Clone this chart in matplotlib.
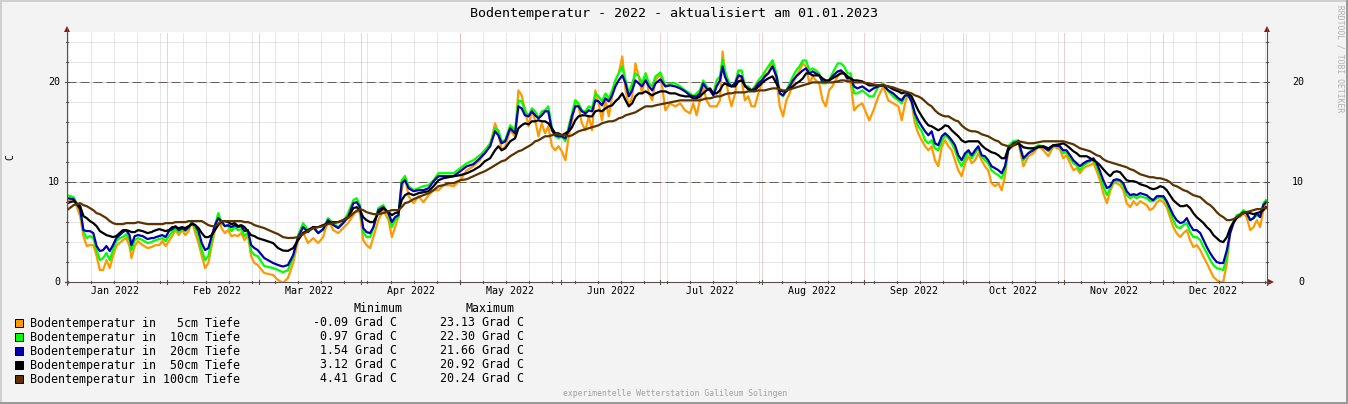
import numpy as np
import matplotlib
matplotlib.use("Agg")
import matplotlib.pyplot as plt
from matplotlib.patches import Rectangle, Polygon
from matplotlib.lines import Line2D

nan = np.nan
W, H = 1348, 404
plt.rcParams['font.family'] = ['DejaVu Sans Mono']

# days since chart start (chart starts 01.01.2022 ~14:00, i.e. day-of-year 0.6)
t_start = 0.6
days = [0, 2, 4, 5, 6, 7, 8, 9, 10, 11,
        12, 13, 14, 15, 16, 17, 18, 19, 19.6, 20.6,
        21.6, 23, 24.5, 25.7, 26, 26.3, 27.1, 28.1, 29, 30, 31, 32,
        33, 34, 35, 36, 37, 38, 39, 40, 41, 42,
        43, 44, 45, 46, 47, 48, 49, 50, 51, 52,
        53, 54, 55, 56, 57, 58, 60, 62.7, 64.2, 65.7,
        67.2, 68.8, 70.3, 71.8, 73.3, 74.9, 76.4, 77.9, 79.4, 81,
        82.5, 84, 85.5, 87.1, 88.1, 89.1, 90.1, 91.1, 92.2, 93.2,
        94.7, 96.2, 97.8, 98.8, 99.8, 100.8, 101.8, 102.8, 103.9, 105.4,
        106.9, 108.4, 110, 111.5, 113, 114.5, 116, 117.6, 119.6, 121.6,
        123.6, 125.6, 127.1, 128.7, 130.2, 131.2, 132.2, 133.3, 134.8, 136.3,
        137.3, 138.3, 139.3, 140.4, 141.4, 142.4, 143.4, 144.4, 145.4, 146.4,
        147.5, 148.5, 149.5, 150.5, 151.6, 152.6, 153.6, 154.6, 155.6, 156.6,
        157.7, 158.7, 159.7, 160.7, 161.7, 162.7, 163.8, 164.8, 165.8, 166.8,
        167.8, 168.9, 169.9, 170.9, 171.9, 172.9, 173.9, 174.9, 176, 177,
        178, 179, 180.5, 182, 183.4, 185, 186.5, 188, 189.5, 190.5,
        191.5, 192.5, 193.5, 194.5, 195.6, 196.6, 197.6, 198.6, 199.4, 200.1,
        201.1, 202.1, 203.2, 204.2, 205.2, 206.2, 207.2, 208.2, 209.2, 210.3,
        211.3, 212.3, 213.3, 214.6, 215.8, 216.8, 217.8, 218.8, 219.8, 220.8,
        221.8, 222.8, 223.8, 224.8, 225.8, 226.8, 227.8, 228.8, 229.8, 230.8,
        231.8, 232.8, 234.4, 235.4, 236.4, 237.4, 238.4, 239.4, 240.4, 241.9,
        244, 245.3, 246.8, 248.3, 249.8, 251.3, 252.9, 253.9, 254.9, 255.9,
        256.9, 257.9, 258.9, 260, 261, 262, 263, 264, 265, 266.1,
        267.1, 268.1, 269.1, 270.1, 271.1, 272.1, 273.2, 274.2, 275.2, 276.2,
        277.2, 278.2, 279.2, 280.2, 281.2, 282.3, 283.3, 284.3, 285.3, 286.3,
        287.8, 289.4, 290.9, 292.4, 293.9, 295.5, 297, 298.5, 300, 302,
        303, 304, 305.1, 306.1, 307.1, 308.1, 309.2, 310.2, 311.2, 312.2,
        313.2, 314.2, 315.2, 316.3, 317.3, 318.3, 319.3, 320.3, 321.3, 322.3,
        323.4, 324.4, 325.4, 326.4, 327.4, 328.4, 329.4, 330.4, 331.5, 332.5,
        333.5, 334.5, 335.5, 336.5, 337.5, 338.6, 339.6, 340.6, 341.6, 342.6,
        343.6, 344.7, 345.7, 346.7, 347.7, 348.7, 349.7, 350.7, 351.7, 352.8,
        353.8, 354.8, 355.8, 356.8, 357.8, 358.8, 359.9, 360.9, 361.9, 362.9, 363.9, 364.7]

t5 = [8.0, 8.4, 6.6, 4.6, 3.6, 3.7, 3.7, 2.6, 1.2, 1.2,
      2.2, 1.4, 2.6, 3.6, 3.9, 4.2, 4.4, 3.6, 2.4, 3.6,
      4.1, 3.7, 3.4, 3.5, nan, 3.6, 3.7, 3.7, 4.1, 3.6, 4.1, 4.6,
      5.2, 4.7, 5.2, 4.7, 5.1, 6.1, 4.9, 3.9, 2.6, 1.4,
      1.9, 3.6, 5.2, 6.6, 5.4, 4.9, 5.2, 4.6, 4.7, 4.6,
      4.9, 4.2, 4.7, 2.6, 1.9, 1.7, 0.9, 0.7, 0.2, -0.09,
      0.4, 1.9, 4.2, 5.0, 3.9, 4.4, 3.9, 4.5, 6.2, 5.2,
      4.9, 5.4, 5.9, 6.7, 7.2, 6.9, 4.2, 3.7, 3.4, 4.5,
      6.2, 7.2, 6.2, 4.5, 5.5, 6.5, 9.2, 10.6, 8.6, 7.9,
      8.6, 8.0, 8.7, 9.2, 9.2, 9.7, 9.7, 9.6, 10.2, 11.2,
      11.6, 12.2, 13.2, 13.6, 15.9, 14.9, 13.2, 13.6, 15.2, 14.6,
      19.2, 18.7, 17.2, 15.6, 17.2, 16.2, 14.6, 15.9, 14.9, 15.6,
      13.6, 13.2, 13.6, 13.1, 12.2, 14.6, 16.1, 18.2, 17.6, 15.9,
      15.2, 16.6, 15.2, 19.2, 17.9, 16.2, 18.2, 16.6, 18.6, 20.2,
      20.9, 22.6, 19.2, 17.6, 18.6, 21.9, 20.6, 18.9, 20.9, 18.9,
      18.2, 20.2, 20.9, 17.2, 17.9, 17.6, 17.9, 17.2, 16.9, 17.9,
      16.7, 18.2, 19.6, 18.2, 17.6, 17.6, 17.6, 18.2, 23.1, 21.2,
      18.9, 17.6, 18.9, 20.9, 20.2, 18.2, 18.6, 17.6, 17.6, 18.9,
      19.9, 20.9, 20.9, 22.2, 20.2, 17.6, 16.6, 18.2, 18.9, 19.9,
      20.6, 21.2, 21.9, 21.6, 19.9, 20.6, 20.2, 19.9, 18.2, 17.6,
      19.2, 19.6, 20.6, 21.2, 20.9, 20.2, 19.9, 17.2, 17.6, 17.9,
      16.2, 17.2, 18.6, 19.6, 18.2, 17.9, 17.6, 16.2, 17.9, 18.9,
      17.9, 15.9, 14.9, 14.2, 13.6, 13.2, 13.6, 12.2, 11.6, 13.6,
      14.2, 13.6, 13.2, 12.2, 11.2, 10.6, 11.9, 12.6, 11.9, 12.2,
      12.9, 12.2, 11.6, 11.2, 9.9, 9.6, 9.9, 9.2, 10.6, 13.2,
      13.6, 13.9, 11.6, 12.6, 12.9, 13.6, 13.2, 12.6, 13.6, 13.3,
      12.4, 12.7, 11.9, 11.2, 11.4, 10.9, 11.4, 11.6, 11.7, 11.9,
      11.1, 10.2, 8.9, 7.9, 9.1, 9.9, 9.9, 9.7, 9.2, 7.9,
      7.5, 8.1, 7.7, 8.1, 7.9, 7.7, 7.2, 7.4, 8.0, 8.2,
      8.0, 7.5, 6.5, 5.5, 4.9, 4.5, 4.9, 5.2, 4.2, 3.5,
      3.7, 3.2, 2.5, 1.9, 1.2, 0.5, 0.2, 0.0, 0.0, 1.9,
      4.9, 5.9, 6.5, 6.5, 6.9, 6.5, 5.2, 5.5, 6.2, 5.5, 7.2, 7.9]

t10 = [8.7, 8.5, 7.2, 5.1, 4.4, 4.6, 4.4, 3.2, 2.2, 2.4,
       2.9, 2.2, 3.2, 4.1, 4.4, 4.5, 4.8, 4.2, 3.2, 4.2,
       4.4, 4.2, 3.9, 4.0, nan, 4.1, 4.2, 4.3, 4.4, 4.1, 4.6, 5.0,
       5.4, 5.0, 5.3, 5.1, 5.4, 6.1, 5.4, 4.6, 3.2, 2.2,
       2.6, 4.2, 5.6, 6.9, 5.9, 5.6, 5.6, 5.1, 5.5, 5.2,
       5.3, 4.6, 5.0, 3.1, 2.7, 2.6, 1.6, 1.4, 1.2, 0.97,
       1.2, 2.5, 4.7, 5.9, 5.2, 5.5, 4.9, 5.2, 6.4, 5.9,
       5.5, 6.0, 6.9, 8.2, 8.4, 7.7, 5.0, 4.5, 4.5, 5.4,
       7.4, 7.7, 6.7, 5.5, 6.2, 6.5, 10.2, 10.6, 9.6, 9.2,
       9.4, 9.6, 9.7, 10.2, 10.9, 10.9, 10.9, 10.9, 11.4, 11.9,
       12.2, 12.7, 13.2, 13.9, 15.4, 15.2, 14.1, 14.2, 15.7, 15.2,
       18.2, 18.1, 17.2, 16.6, 17.4, 17.1, 16.4, 17.1, 17.2, 17.6,
       15.4, 14.6, 14.4, 14.6, 14.1, 15.6, 16.9, 18.2, 17.9, 17.2,
       17.1, 17.6, 17.4, 18.9, 18.6, 18.1, 18.9, 18.4, 19.2, 20.2,
       20.9, 21.6, 20.2, 18.9, 19.9, 20.9, 20.6, 19.9, 20.9, 19.9,
       19.6, 20.6, 21.0, 19.6, 19.9, 19.9, 19.6, 19.2, 18.9, 18.6,
       18.9, 19.2, 20.2, 19.6, 19.2, 18.9, 20.2, 20.6, 22.3, 21.2,
       20.2, 19.6, 19.9, 21.2, 21.2, 19.6, 19.6, 19.2, 19.6, 20.2,
       20.6, 21.1, 21.6, 22.2, 20.9, 18.9, 18.6, 19.2, 19.9, 20.6,
       21.2, 21.6, 22.2, 22.2, 21.2, 21.4, 21.2, 20.9, 19.9, 19.9,
       20.2, 20.9, 21.9, 21.9, 21.6, 20.9, 20.9, 18.9, 18.9, 19.2,
       18.6, 18.6, 19.6, 19.9, 19.1, 18.6, 18.2, 17.9, 18.6, 18.9,
       18.2, 16.6, 15.6, 15.1, 14.2, 13.9, 14.2, 13.4, 13.2, 14.1,
       14.7, 14.4, 13.9, 13.2, 12.2, 11.6, 12.4, 13.1, 12.4, 12.9,
       13.4, 12.6, 12.2, 11.9, 11.2, 10.9, 10.7, 10.4, 11.2, 13.6,
       14.1, 14.2, 12.2, 12.9, 13.4, 13.7, 13.6, 13.1, 13.7, 13.6,
       12.9, 13.0, 12.4, 11.9, 11.7, 11.2, 11.7, 11.9, 12.1, 12.2,
       11.6, 10.7, 9.6, 8.7, 9.4, 10.1, 10.1, 10.1, 9.6, 8.7,
       8.4, 8.6, 8.4, 8.6, 8.5, 8.4, 8.1, 8.1, 8.4, 8.5,
       8.4, 7.9, 7.0, 6.2, 5.5, 5.4, 5.7, 5.9, 5.0, 4.5,
       4.5, 4.2, 3.5, 2.9, 2.2, 1.7, 1.4, 1.3, 1.2, 2.5,
       5.2, 6.0, 6.7, 6.8, 7.2, 7.0, 6.2, 6.4, 6.7, 6.5, 7.9, 8.2]

t20 = [8.4, 8.3, 7.3, 5.2, 5.1, 5.1, 4.9, 3.6, 3.1, 3.2,
       3.6, 3.1, 3.7, 4.4, 4.7, 5.0, 5.2, 4.7, 3.7, 4.6,
       4.7, 4.6, 4.3, 4.4, nan, 4.4, 4.5, 4.6, 4.7, 4.5, 5.1, 5.3,
       5.6, 5.2, 5.4, 5.2, 5.5, 5.9, 5.7, 5.1, 3.9, 3.2,
       3.4, 4.6, 5.7, 6.4, 6.1, 5.6, 5.7, 5.5, 5.7, 5.5,
       5.6, 5.1, 5.2, 3.7, 3.4, 3.2, 2.4, 1.9, 1.7, 1.55,
       1.7, 2.7, 4.5, 5.5, 5.0, 5.5, 4.9, 5.3, 6.2, 5.7,
       5.4, 5.9, 6.5, 7.9, 8.0, 7.5, 5.4, 5.0, 4.9, 5.5,
       7.2, 7.5, 6.9, 6.0, 6.5, 6.7, 9.9, 10.2, 9.4, 9.1,
       9.2, 9.2, 9.4, 10.1, 10.6, 10.6, 10.6, 10.6, 11.1, 11.6,
       11.8, 12.4, 12.9, 13.6, 15.1, 14.7, 13.9, 14.1, 15.4, 14.9,
       17.6, 17.4, 16.7, 16.6, 17.1, 16.7, 16.4, 16.7, 17.1, 17.1,
       15.2, 14.7, 14.6, 14.6, 14.4, 15.2, 16.6, 17.6, 17.6, 17.1,
       16.9, 17.2, 17.1, 18.2, 18.1, 17.7, 18.4, 18.1, 18.7, 19.6,
       20.2, 20.7, 19.9, 18.6, 19.2, 20.2, 19.9, 19.6, 20.2, 19.6,
       19.2, 19.9, 20.3, 19.6, 19.7, 19.6, 19.4, 19.1, 18.7, 18.6,
       18.6, 18.9, 19.9, 19.4, 19.2, 18.7, 19.6, 20.2, 21.6, 20.6,
       19.9, 19.6, 19.9, 20.7, 20.6, 19.6, 19.4, 19.2, 19.4, 19.9,
       20.2, 20.6, 20.9, 21.6, 20.6, 18.9, 18.7, 19.2, 19.6, 20.2,
       20.6, 20.9, 21.2, 21.4, 20.9, 21.1, 20.9, 20.7, 20.1, 20.1,
       20.2, 20.6, 21.1, 21.2, 20.9, 20.4, 20.4, 19.6, 19.4, 19.6,
       19.1, 19.4, 19.6, 19.7, 19.2, 18.9, 18.4, 18.2, 18.7, 18.7,
       18.1, 16.9, 16.2, 15.6, 15.1, 14.7, 15.1, 13.9, 13.7, 14.6,
       14.9, 14.6, 14.2, 13.7, 12.7, 12.2, 12.9, 13.2, 12.7, 13.2,
       13.6, 12.7, 12.6, 12.2, 11.6, 11.4, 11.2, 10.9, 11.6, 13.2,
       13.9, 14.1, 12.4, 12.9, 13.2, 13.6, 13.5, 13.2, 13.7, 13.6,
       13.2, 13.2, 12.7, 12.2, 11.9, 11.6, 11.9, 12.1, 12.2, 12.4,
       11.9, 11.1, 10.2, 9.4, 9.6, 10.2, 10.3, 10.2, 9.9, 9.1,
       8.7, 8.8, 8.7, 8.9, 8.8, 8.7, 8.4, 8.2, 8.6, 8.6,
       8.6, 8.1, 7.4, 6.7, 6.2, 5.9, 6.0, 6.4, 5.7, 5.2,
       5.2, 4.9, 4.2, 3.5, 2.9, 2.4, 2.0, 1.9, 1.9, 3.2,
       4.9, 5.9, 6.5, 6.7, 7.0, 6.9, 6.2, 6.4, 6.9, 6.5, 7.7, 8.0]

t50 = [7.9, 8.1, 7.6, 6.6, 6.4, 6.1, 5.9, 5.6, 5.1, 4.9,
       4.7, 4.6, 4.5, 4.6, 4.9, 5.2, 5.2, 5.1, 5.0, 5.0,
       5.2, 5.1, 4.9, 5.0, nan, 5.1, 5.2, 5.3, 5.2, 5.1, 5.2, 5.5,
       5.5, 5.4, 5.5, 5.4, 5.6, 5.8, 5.7, 5.4, 4.9, 4.5,
       4.5, 4.7, 5.2, 5.7, 6.1, 6.1, 6.0, 5.8, 5.9, 5.6,
       5.7, 5.5, 5.1, 4.7, 4.6, 4.4, 4.2, 3.9, 3.4, 3.15,
       3.12, 3.4, 4.2, 4.9, 5.2, 5.5, 5.5, 5.7, 5.9, 6.0,
       6.0, 6.2, 6.5, 7.4, 7.5, 7.2, 6.5, 6.2, 6.0, 6.0,
       6.9, 7.4, 7.0, 6.7, 6.9, 7.0, 8.2, 8.7, 8.9, 8.7,
       8.9, 9.0, 9.1, 9.6, 10.2, 10.4, 10.5, 10.6, 10.7, 10.9,
       11.2, 11.6, 12.1, 12.4, 13.2, 13.6, 13.2, 13.4, 14.1, 14.4,
       15.4, 15.7, 15.9, 15.8, 16.1, 16.1, 16.2, 16.1, 16.1, 15.9,
       15.4, 14.9, 14.9, 14.7, 14.9, 15.1, 15.5, 16.2, 16.6, 16.7,
       16.7, 16.6, 16.6, 17.1, 17.2, 17.1, 17.4, 17.6, 17.7, 18.1,
       18.4, 18.9, 18.2, 17.6, 17.9, 18.6, 18.9, 18.9, 19.1, 18.9,
       18.7, 18.9, 19.1, 19.1, 18.9, 18.9, 18.7, 18.6, 18.6, 18.4,
       18.4, 18.6, 18.9, 19.2, 19.4, 18.9, 18.9, 19.2, 19.7, 19.9,
       19.7, 19.6, 19.6, 20.1, 20.2, 19.7, 19.3, 19.2, 19.2, 19.6,
       19.9, 20.2, 20.4, 20.6, 19.9, 19.2, 19.1, 19.1, 19.4, 19.6,
       19.9, 20.1, 20.4, 20.9, 20.9, 20.7, 20.7, 20.7, 20.4, 20.2,
       20.2, 20.4, 20.7, 20.9, 20.9, 20.6, 20.4, 20.2, 20.2, 20.1,
       19.7, 19.7, 19.7, 19.7, 19.6, 19.3, 19.1, 18.9, 19.0, 18.9,
       18.6, 17.9, 17.2, 16.6, 16.1, 15.7, 15.6, 15.4, 15.2, 15.4,
       15.7, 15.6, 15.2, 14.9, 14.6, 14.2, 14.0, 14.1, 14.1, 14.1,
       14.1, 13.7, 13.4, 13.2, 13.0, 12.9, 12.7, 12.4, 12.4, 13.4,
       13.7, 13.9, 13.5, 13.4, 13.4, 13.5, 13.6, 13.4, 13.7, 13.8,
       13.9, 13.7, 13.4, 13.1, 12.9, 12.6, 12.6, 12.6, 12.4, 12.2,
       12.0, 11.7, 11.3, 10.9, 10.6, 11.0, 11.1, 11.0, 10.6, 10.2,
       10.1, 10.1, 10.0, 9.8, 9.7, 9.6, 9.4, 9.3, 9.4, 9.6,
       9.5, 9.2, 8.7, 8.2, 7.9, 7.6, 7.6, 7.7, 7.4, 6.9,
       6.5, 6.2, 5.9, 5.5, 5.2, 4.7, 4.4, 4.1, 4.0, 4.5,
       5.4, 6.0, 6.4, 6.7, 6.9, 7.0, 6.9, 6.8, 6.9, 7.0, 7.2, 7.5]

t100 = [7.2, 7.7, 7.9, 7.7, 7.6, 7.4, 7.2, 6.9, 6.8, 6.6,
        6.4, 6.1, 5.9, 5.8, 5.8, 5.8, 5.9, 5.9, 5.9, 5.9,
        6.0, 5.9, 5.8, 5.8, nan, 5.8, 5.8, 5.8, 5.8, 5.9, 5.9, 5.9,
        6.0, 6.0, 6.0, 6.0, 6.1, 6.1, 6.1, 6.1, 6.1, 5.9,
        5.7, 5.6, 5.6, 5.8, 6.1, 6.1, 6.1, 6.1, 6.1, 6.1,
        6.1, 6.0, 6.0, 5.9, 5.7, 5.6, 5.4, 5.0, 4.8, 4.5,
        4.41, 4.42, 4.5, 4.8, 5.1, 5.4, 5.5, 5.6, 5.8, 5.9,
        6.0, 6.2, 6.4, 6.9, 7.1, 7.3, 7.2, 7.0, 6.9, 6.8,
        6.8, 6.9, 7.1, 7.2, 7.2, 7.2, 7.5, 7.9, 8.0, 8.3,
        8.5, 8.7, 8.9, 9.2, 9.6, 9.7, 9.9, 9.9, 10.2, 10.3,
        10.6, 10.9, 11.1, 11.4, 11.7, 11.9, 12.1, 12.2, 12.6, 12.9,
        13.1, 13.2, 13.4, 13.6, 13.8, 14.1, 14.2, 14.4, 14.6, 14.6,
        14.7, 14.8, 14.8, 14.7, 14.7, 14.6, 14.7, 14.9, 15.1, 15.2,
        15.3, 15.4, 15.5, 15.6, 15.7, 15.9, 16.0, 16.1, 16.1, 16.2,
        16.4, 16.5, 16.7, 16.8, 16.9, 17.0, 17.2, 17.4, 17.6, 17.6,
        17.6, 17.7, 17.8, 17.9, 18.0, 18.1, 18.2, 18.2, 18.2, 18.2,
        18.2, 18.2, 18.3, 18.4, 18.4, 18.5, 18.6, 18.6, 18.7, 18.8,
        18.9, 18.9, 19.0, 19.0, 19.0, 19.0, 19.1, 19.1, 19.1, 19.2,
        19.2, 19.2, 19.3, 19.4, 19.4, 19.3, 19.2, 19.2, 19.3, 19.4,
        19.5, 19.6, 19.7, 19.8, 19.9, 20.0, 20.0, 20.0, 20.0, 20.0,
        20.0, 20.0, 20.1, 20.2, 20.2, 20.1, 20.1, 20.0, 20.0, 20.0,
        19.9, 19.8, 19.7, 19.7, 19.6, 19.5, 19.3, 19.2, 19.1, 19.0,
        18.9, 18.7, 18.6, 18.4, 18.1, 17.8, 17.6, 17.2, 16.9, 16.7,
        16.6, 16.6, 16.4, 16.2, 16.1, 15.7, 15.4, 15.2, 15.1, 15.1,
        15.0, 14.8, 14.7, 14.6, 14.4, 14.2, 14.1, 13.8, 13.7, 13.6,
        13.7, 14.1, 14.0, 13.9, 13.9, 14.0, 14.1, 14.1, 14.1, 14.1,
        14.1, 14.0, 13.9, 13.8, 13.6, 13.4, 13.3, 13.2, 13.1, 12.9,
        12.7, 12.6, 12.3, 12.1, 12.0, 11.9, 11.8, 11.7, 11.6, 11.5,
        11.3, 11.2, 11.0, 10.8, 10.7, 10.6, 10.5, 10.5, 10.4, 10.4,
        10.3, 10.2, 10.0, 9.7, 9.6, 9.4, 9.2, 9.1, 8.9, 8.7,
        8.6, 8.5, 8.2, 7.9, 7.7, 7.4, 7.0, 6.7, 6.5, 6.2,
        6.2, 6.3, 6.5, 6.7, 6.9, 7.0, 7.1, 7.2, 7.3, 7.3, 7.4, 7.4]

series = [t5, t10, t20, t50, t100]
names = ["Bodentemperatur in   5cm Tiefe", "Bodentemperatur in  10cm Tiefe",
         "Bodentemperatur in  20cm Tiefe", "Bodentemperatur in  50cm Tiefe",
         "Bodentemperatur in 100cm Tiefe"]
colors = ["#FF9900", "#00FF00", "#0000B0", "#000000", "#5C3300"]
minima = ["-0.09", "0.97", "1.54", "3.12", "4.41"]
maxima = ["23.13", "22.30", "21.66", "20.92", "20.24"]
month_starts = [0, 31, 59, 90, 120, 151, 181, 212, 243, 273, 304, 334]
month_labels = ["Jan 2022", "Feb 2022", "Mar 2022", "Apr 2022", "May 2022", "Jun 2022",
                "Jul 2022", "Aug 2022", "Sep 2022", "Oct 2022", "Nov 2022", "Dec 2022"]
sundays = np.arange(1, 366, 7)


def fx(x):
    return x / W


def fy(y):
    return 1 - y / H


fig = plt.figure(figsize=(W / 100, H / 100), dpi=100, facecolor='#f3f3f3')

# frame of the image
fig.add_artist(Rectangle((0, fy(2)), 1, 2 / H, transform=fig.transFigure, color='#cfcfcf', lw=0))
fig.add_artist(Rectangle((0, 0), 2 / W, 1, transform=fig.transFigure, color='#cfcfcf', lw=0))
fig.add_artist(Rectangle((0, 0), 1, 2 / H, transform=fig.transFigure, color='#9a9a9a', lw=0))
fig.add_artist(Rectangle((fx(1346), 0), 2 / W, 1, transform=fig.transFigure, color='#9a9a9a', lw=0))

x0, x1, ybot, ytop = 67, 1267, 282, 32
ax = fig.add_axes([fx(x0), fy(ybot), (x1 - x0) / W, (ybot - ytop) / H])
ax.set_facecolor('white')
ax.set_xlim(t_start, t_start + 365)
ax.set_ylim(0, (ybot - ytop) / 9.98)
for s in ax.spines.values():
    s.set_visible(False)
ax.set_xticks([])
ax.set_yticks([])

# grid
for v in range(2, 26, 2):
    if v % 10:
        ax.axhline(v, color='#cccccc', lw=0.72, ls=(0, (1, 1)), zorder=1)
for d in sundays:
    ax.axvline(d, color='#cccccc', lw=0.72, ls=(0, (1, 1)), zorder=1)
for d in month_starts[1:]:
    ax.axvline(d, color='#e3a0a0', lw=0.72, ls=(0, (1, 1)), zorder=1)
for v in [0, 10, 20]:
    ax.axhline(v, color='#e3a0a0', lw=0.72, ls=(0, (1, 1)), zorder=1)
    ax.axhline(v, color='#606060', lw=0.72, ls=(0, (9, 4)), zorder=1.5)

x = np.array(days) + t_start
for vals, c in zip(series, colors):
    ax.plot(x, np.array(vals, dtype=float), color=c, lw=1.6, zorder=3)

# axes lines, ticks and arrows
axc = '#5a5050'
fig.add_artist(Line2D([fx(x0), fx(x0)], [fy(ybot + 3), fy(28)], color=axc, lw=0.8))
fig.add_artist(Line2D([fx(x1), fx(x1)], [fy(ybot + 3), fy(28)], color=axc, lw=0.8))
fig.add_artist(Line2D([fx(x0 - 2), fx(x1 + 3)], [fy(ybot), fy(ybot)], color=axc, lw=0.8))
for d in month_starts[1:]:
    px = x0 + (d - t_start) * 1200 / 365
    fig.add_artist(Line2D([fx(px), fx(px)], [fy(ybot - 2), fy(ybot + 2)], color=axc, lw=0.8))
for d in sundays:
    px = x0 + (d - t_start) * 1200 / 365
    fig.add_artist(Line2D([fx(px), fx(px)], [fy(ybot - 1), fy(ybot + 1)], color=axc, lw=0.8))
for v in range(0, 26, 2):
    py = ybot - v * 9.98
    ln = 2 if v % 10 == 0 else 1
    fig.add_artist(Line2D([fx(x0 - ln), fx(x0 + ln)], [fy(py), fy(py)], color=axc, lw=0.8))
    fig.add_artist(Line2D([fx(x1 - ln), fx(x1 + ln)], [fy(py), fy(py)], color=axc, lw=0.8))
arrow_c = '#8b1a1a'
for ax_x in [x0, x1]:
    fig.add_artist(Polygon([(fx(ax_x - 3), fy(32)), (fx(ax_x + 3), fy(32)), (fx(ax_x), fy(26))],
                           closed=True, transform=fig.transFigure, color=arrow_c, lw=0))
fig.add_artist(Polygon([(fx(x1 + 1), fy(ybot - 3)), (fx(x1 + 1), fy(ybot + 3)), (fx(x1 + 7), fy(ybot))],
                       closed=True, transform=fig.transFigure, color=arrow_c, lw=0))

# labels
for v in [0, 10, 20]:
    fig.text(fx(60), fy(ybot - v * 9.98), str(v), ha='right', va='center', fontsize=7.2)
    fig.text(fx(1304), fy(ybot - v * 9.98), str(v), ha='right', va='center', fontsize=7.2)
for d, lab in zip(month_starts, month_labels):
    px = x0 + (d + 15.2 - t_start) * 1200 / 365
    fig.text(fx(px), fy(291), lab, ha='center', va='center', fontsize=7.2)
fig.text(fx(10), fy(157), "C", rotation=90, ha='center', va='center', fontsize=7.2)

fig.text(fx(674), fy(13), "Bodentemperatur - 2022 - aktualisiert am 01.01.2023",
         ha='center', va='center', fontsize=9.6)
fig.text(fx(1340), fy(5), "RRDTOOL / TOBI OETIKER", rotation=270, ha='center', va='top',
         fontsize=5.8, color='#b0b0b0')
fig.text(fx(675), fy(393), "experimentelle Wetterstation Galileum Solingen",
         ha='center', va='center', fontsize=5.8, color='#a0a0a0')

# legend
lfs = 8.4
fig.text(fx(353), fy(309), "Minimum", ha='left', va='center', fontsize=lfs)
fig.text(fx(465), fy(309), "Maximum", ha='left', va='center', fontsize=lfs)
rows = [323, 337, 351, 365, 379]
for ry, name, c, mn, mx in zip(rows, names, colors, minima, maxima):
    fig.add_artist(Rectangle((fx(15), fy(ry + 4)), 8 / W, 8 / H, transform=fig.transFigure,
                             facecolor=c, edgecolor='black', lw=0.7))
    fig.text(fx(30), fy(ry), name, ha='left', va='center', fontsize=lfs)
    fig.text(fx(397), fy(ry), mn + " Grad C", ha='right', va='center', fontsize=lfs)
    fig.text(fx(524), fy(ry), mx + " Grad C", ha='right', va='center', fontsize=lfs)

fig.savefig("out.png", dpi=100, facecolor=fig.get_facecolor())
